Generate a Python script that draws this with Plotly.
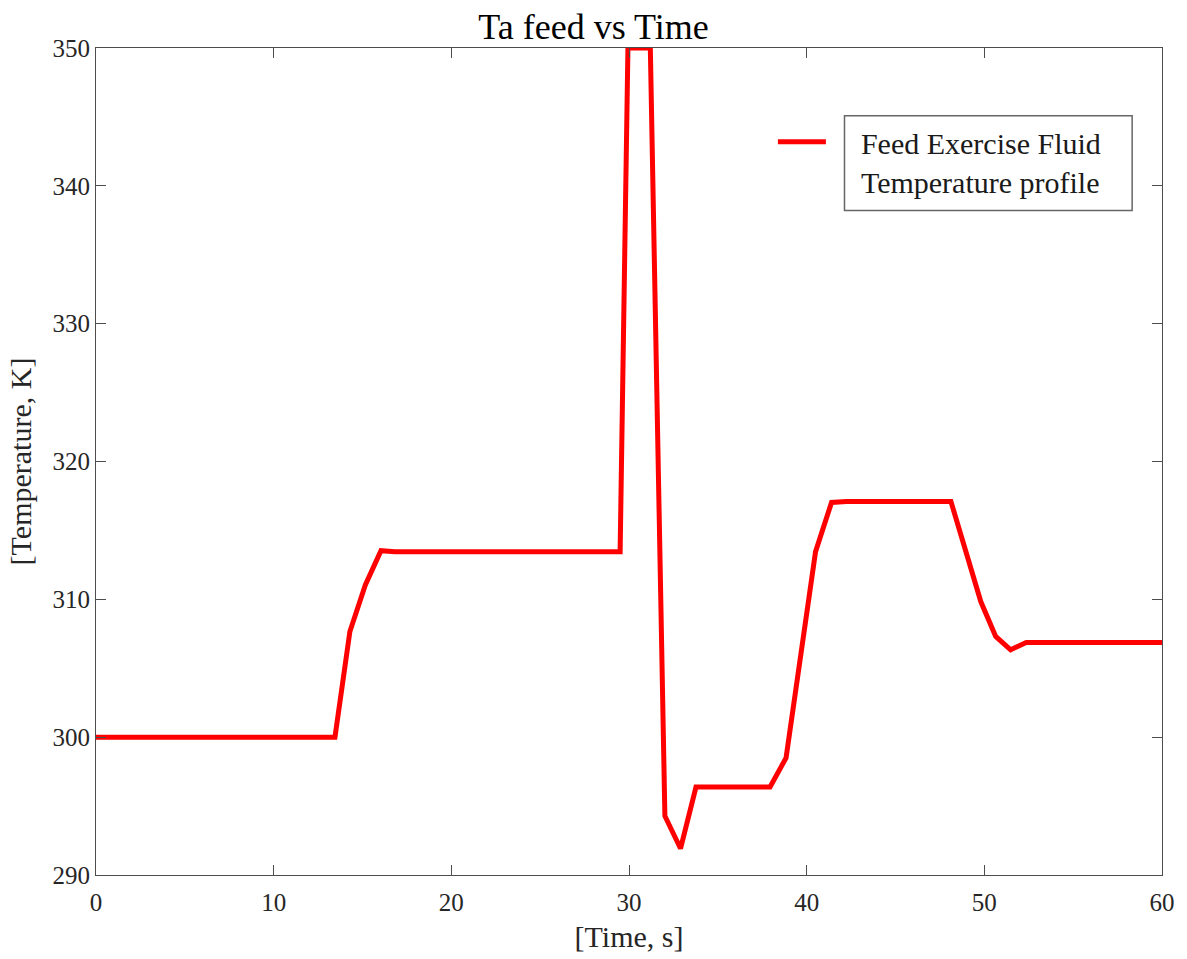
import plotly.graph_objects as go

time_s = [0, 13.45, 14.29, 15.16, 16.04, 16.83, 29.5, 29.94, 31.2, 32.02, 32.9, 33.77,
          37.94, 38.84, 40.5, 41.4, 42.24, 48.12, 49.8, 50.64, 51.48, 52.36, 60]
temp_k = [300, 300, 307.67, 311.04, 313.53, 313.46, 313.46, 350, 350, 294.28, 291.92, 296.38,
          296.38, 298.5, 313.46, 317.03, 317.1, 317.1, 309.84, 307.31, 306.34, 306.87, 306.87]

x_ticks = [0, 10, 20, 30, 40, 50, 60]
y_ticks = [290, 300, 310, 320, 330, 340, 350]

FONT = "Liberation Serif"
PAD = "\u00a0\u00a0\u00a0\u00a0"

fig = go.Figure()
fig.add_trace(go.Scatter(
    x=time_s, y=temp_k, mode="lines",
    line=dict(color="#ff0000", width=5),
    name=PAD + "Feed Exercise Fluid<br>" + PAD + "Temperature profile",
))

axis_common = dict(
    showgrid=False, zeroline=False, showline=True, linecolor="#4d4d4d", linewidth=1,
    mirror="allticks", ticks="inside", ticklen=10, tickcolor="#4d4d4d", tickwidth=1,
    tickfont=dict(family=FONT, size=25, color="#262626"),
)

fig.update_layout(
    width=1187, height=959,
    margin=dict(l=96, r=20, t=48, b=82),
    paper_bgcolor="white", plot_bgcolor="white",
    title=dict(text="Ta feed vs Time", x=0.5, xanchor="center", y=0.972, yanchor="middle",
               font=dict(family=FONT, size=36, color="black")),
    xaxis=dict(range=[0, 60], tickvals=x_ticks, ticklabelstandoff=5,
               title=dict(text="[Time, s]", font=dict(family=FONT, size=30, color="#262626"), standoff=10),
               **axis_common),
    yaxis=dict(range=[290, 350], tickvals=y_ticks,
               title=dict(text="[Temperature, K]", font=dict(family=FONT, size=30, color="#262626"), standoff=12),
               **axis_common),
    showlegend=True,
    legend=dict(x=0.635, y=0.918, xanchor="left", yanchor="top",
                bgcolor="rgba(0,0,0,0)", borderwidth=0, valign="top",
                itemwidth=48, tracegroupgap=0,
                font=dict(family=FONT, size=30, color="#1a1a1a")),
    shapes=[dict(type="rect", xref="paper", yref="paper",
                 x0=(848 - 96) / 1071, x1=(1137 - 96) / 1071,
                 y0=(877 - 211) / 829, y1=(877 - 116) / 829,
                 line=dict(color="#666666", width=1.5), fillcolor="rgba(0,0,0,0)")],
)

fig.write_html("out.html")
